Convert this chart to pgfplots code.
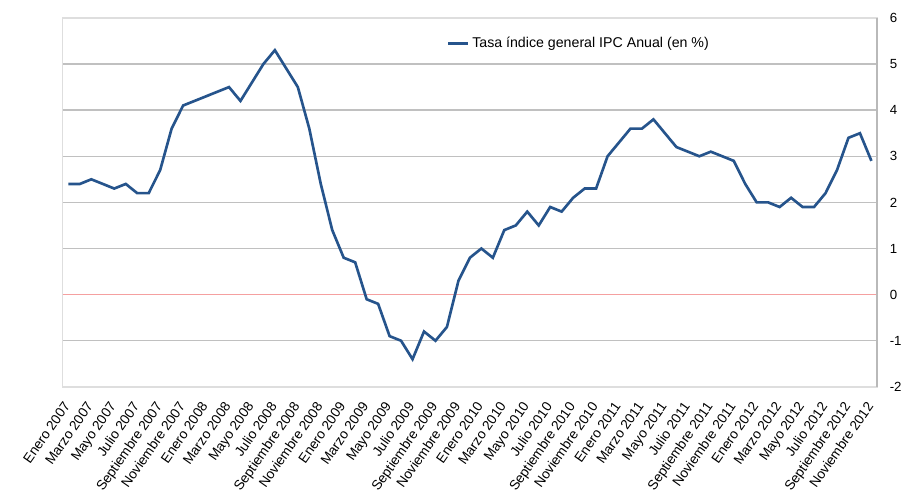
\documentclass[border=0pt]{standalone}
\usepackage{pgfplots}
\pgfplotsset{compat=1.18}
\usepackage{fontspec}
\setmainfont{Liberation Sans}
\definecolor{ipc}{RGB}{38,84,140}
\definecolor{gridc}{RGB}{192,192,192}
\definecolor{framec}{RGB}{222,222,222}
\definecolor{zeroc}{RGB}{245,160,160}
\begin{document}
\begin{tikzpicture}
\path (0,0) rectangle (679.5pt,375.75pt);
\begin{axis}[
  at={(47.25pt,84pt)}, anchor=south west, scale only axis,
  width=614.25pt, height=278.25pt,
  xmin=-0.5, xmax=70.5, ymin=-2, ymax=6,
  ytick={-2,-1,0,1,2,3,4,5,6},
  yticklabel pos=right,
  ymajorgrids,
  grid style={gridc, line width=1.1pt},
  axis line style={framec, line width=1.1pt},
  major tick length=0pt,
  /pgf/number format/assume math mode=true,
  yticklabel style={font=\fontsize{10}{12}\selectfont, xshift=6pt},
  xtick={0,2,...,70},
  xticklabels={Enero 2007,Marzo 2007,Mayo 2007,Julio 2007,Septiembre 2007,Noviembre 2007,
    Enero 2008,Marzo 2008,Mayo 2008,Julio 2008,Septiembre 2008,Noviembre 2008,
    Enero 2009,Marzo 2009,Mayo 2009,Julio 2009,Septiembre 2009,Noviembre 2009,
    Enero 2010,Marzo 2010,Mayo 2010,Julio 2010,Septiembre 2010,Noviembre 2010,
    Enero 2011,Marzo 2011,Mayo 2011,Julio 2011,Septiembre 2011,Noviembre 2011,
    Enero 2012,Marzo 2012,Mayo 2012,Julio 2012,Septiembre 2012,Noviembre 2012},
  xticklabel style={font=\fontsize{10.3}{12}\selectfont, xshift=-4.5pt, yshift=-9pt, rotate=55, anchor=north east, inner sep=1pt},
  legend style={at={(0.47,0.93)}, anchor=west, draw=none, fill=none,
    font=\fontsize{10.7}{12}\selectfont, inner sep=1pt},
  legend cell align=left,
  legend image code/.code={\draw[#1] (0pt,0pt) -- (15pt,0pt);},
  clip=false,
]
\draw[zeroc, line width=1.1pt] (axis cs:-0.5,0) -- (axis cs:70.5,0);
\draw[gray!55, line width=1.1pt] (rel axis cs:1,0) -- (rel axis cs:1,1);
\addplot[ipc, line width=2pt] table {
x y
0 2.4
1 2.4
2 2.5
3 2.4
4 2.3
5 2.4
6 2.2
7 2.2
8 2.7
9 3.6
10 4.1
11 4.2
12 4.3
13 4.4
14 4.5
15 4.2
16 4.6
17 5.0
18 5.3
19 4.9
20 4.5
21 3.6
22 2.4
23 1.4
24 0.8
25 0.7
26 -0.1
27 -0.2
28 -0.9
29 -1.0
30 -1.4
31 -0.8
32 -1.0
33 -0.7
34 0.3
35 0.8
36 1.0
37 0.8
38 1.4
39 1.5
40 1.8
41 1.5
42 1.9
43 1.8
44 2.1
45 2.3
46 2.3
47 3.0
48 3.3
49 3.6
50 3.6
51 3.8
52 3.5
53 3.2
54 3.1
55 3.0
56 3.1
57 3.0
58 2.9
59 2.4
60 2.0
61 2.0
62 1.9
63 2.1
64 1.9
65 1.9
66 2.2
67 2.7
68 3.4
69 3.5
70 2.9
};
\addlegendentry{Tasa índice general IPC Anual (en \%)}
\end{axis}
\end{tikzpicture}
\end{document}
